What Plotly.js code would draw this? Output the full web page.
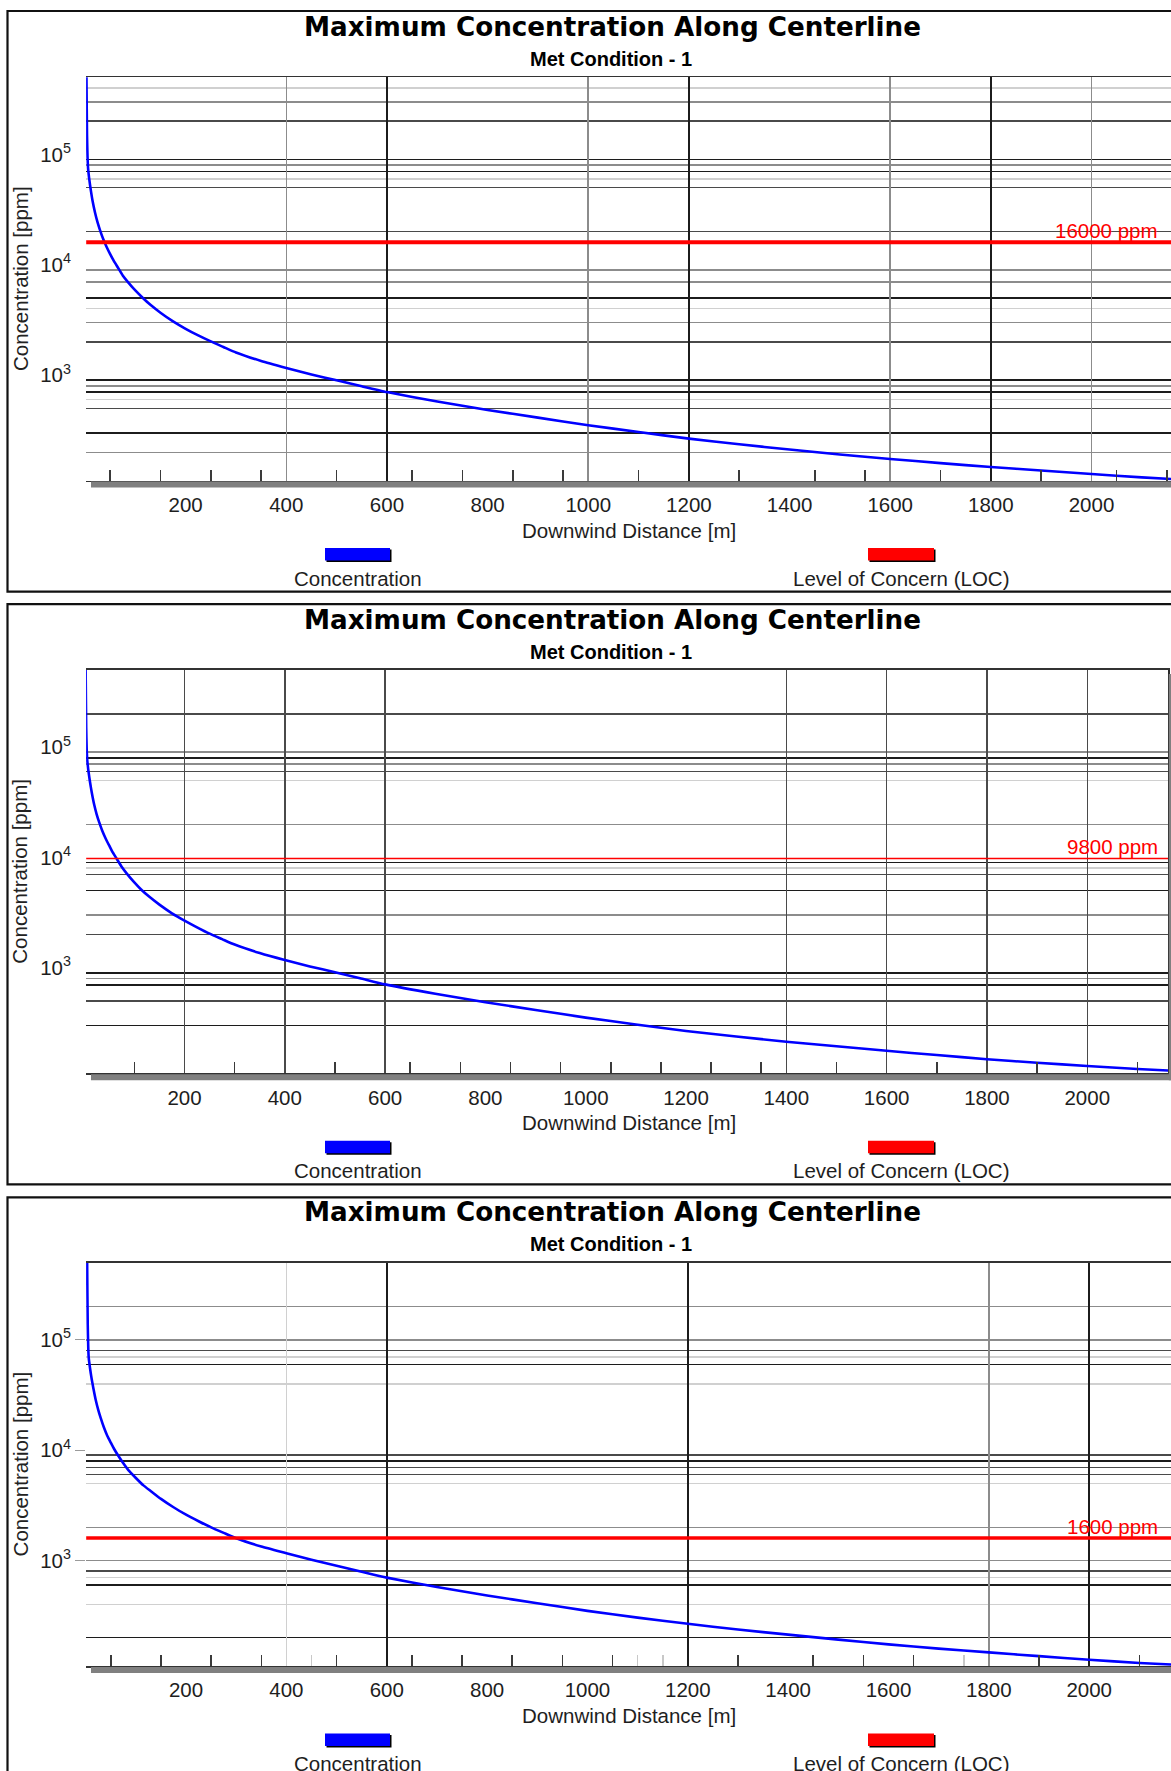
<!DOCTYPE html>
<html><head><meta charset="utf-8">
<script src="https://cdn.plot.ly/plotly-3.0.1.min.js"></script>
<style>html,body{margin:0;padding:0;background:#fff;overflow:hidden}</style>
</head><body>
<div id="chart" style="width:1171px;height:1771px"></div>
<script>
// ---------------- data ----------------
const distance = [2, 3, 4, 5, 6, 7, 8, 10, 12, 15, 20, 25, 30, 36, 43, 50, 57, 65, 75, 85, 100, 115, 130, 150, 175, 200, 225, 250, 275, 300, 350, 400, 450, 500, 550, 600, 700, 800, 900, 1000, 1100, 1200, 1300, 1400, 1500, 1600, 1700, 1800, 1900, 2000, 2100, 2165];
const concP1 = [2.0e6, 4.5e5, 1.5e5, 9.5e4, 7.6e4, 6.8e4, 6.2e4, 5.3e4, 4.6e4, 3.8e4, 2.96e4, 2.42e4, 2.05e4, 1.72e4, 1.45e4, 1.25e4, 1.09e4, 9.5e3, 8.0e3, 7.0e3, 5.85e3, 5.0e3, 4.34e3, 3.68e3, 3.07e3, 2.63e3, 2.29e3, 2.02e3, 1.8e3, 1.605e3, 1.345e3, 1.163e3, 1.015e3, 897, 792, 702, 577, 484, 412, 352, 305, 266, 236, 212, 191, 174, 159.5, 147, 136.5, 127, 118.5, 114];
const concP2 = [2.0e6, 4.5e5, 1.5e5, 9.5e4, 7.7e4, 6.9e4, 6.3e4, 5.4e4, 4.7e4, 3.9e4, 3.0e4, 2.45e4, 2.08e4, 1.75e4, 1.48e4, 1.28e4, 1.11e4, 9.7e3, 8.2e3, 7.15e3, 5.95e3, 5.05e3, 4.4e3, 3.74e3, 3.12e3, 2.68e3, 2.33e3, 2.04e3, 1.82e3, 1.625e3, 1.36e3, 1.175e3, 1.03e3, 912, 805, 708, 582, 488, 415, 354, 307, 268, 239, 214, 194.5, 177, 162, 148.5, 138, 129, 121, 117];
const concP3 = [2.0e6, 4.3e5, 1.4e5, 8.8e4, 6.9e4, 6.3e4, 5.8e4, 5.0e4, 4.4e4, 3.7e4, 2.85e4, 2.32e4, 1.95e4, 1.62e4, 1.35e4, 1.17e4, 1.02e4, 8.9e3, 7.6e3, 6.6e3, 5.6e3, 4.8e3, 4.25e3, 3.62e3, 3.04e3, 2.6e3, 2.27e3, 2.0e3, 1.78e3, 1.59e3, 1.34e3, 1.165e3, 1.015e3, 895, 790, 700, 576, 483, 410, 350, 304, 267, 237, 213, 192, 174, 159, 147, 136, 126, 118, 114];
const locValues = [16000, 9800, 1600];
const locLabels = ['16000 ppm', '9800 ppm', '1600 ppm'];
const xTickVals = [200, 400, 600, 800, 1000, 1200, 1400, 1600, 1800, 2000];
const xTickText = ['200', '400', '600', '800', '1000', '1200', '1400', '1600', '1800', '2000'];
const yTickVals = [1000, 10000, 100000];
const yTickText = ['10<sup>3</sup>', '10<sup>4</sup>', '10<sup>5</sup>'];
const chartTitle = 'Maximum Concentration Along Centerline';
const chartSubtitle = 'Met Condition - 1';
const xTitle = 'Downwind Distance [m]';
const yTitle = 'Concentration [ppm]';
const seriesNames = ['Concentration', 'Level of Concern (LOC)'];

// grid-line values (by shade)
const p1GridH = {k: [9e4, 7e4, 5e3, 900, 700, 300], d: [2e5, 5e4, 2e4, 2e3, 500], g: [3e5, 8e4, 9e3, 7e3, 3e3, 800, 200], l: [4e5, 6e4, 4e3, 600]};
const p2GridH = {k: [8e4, 9e3, 5e3, 900, 700, 300], d: [2e5, 6e4, 7e3, 2e3, 500], g: [9e4, 7e4, 2e4, 3e3, 800], l: [5e4, 8e3]};
const p3GridH = {k: [6e4, 8e3, 600, 200], d: [8e4, 9e3, 7e3, 6e3, 800], g: [2e5, 1e5, 2e3, 1e3], l: [7e4, 4e4, 5e3, 700, 400]};
const p1GridV = {k: [600, 1200, 1800], g: [400, 1000, 1600, 2000]};
const p2GridV = {d: [200, 400, 600, 1400, 1600, 1800, 2000]};
const p3GridV = {k: [600, 1200, 2000], g: [1800], l: [400]};
const p1Ticks = {k: [50, 150, 250, 350, 500, 650, 750, 850, 950, 1100, 1300, 1450, 1550, 1700, 1900, 2050, 2150]};
const p2Ticks = {k: [100, 300, 500, 650, 750, 850, 950, 1050, 1150, 1250, 1350, 1500, 1700, 1900, 2100]};
const p3Ticks = {k: [50, 150, 250, 350, 500, 650, 750, 850, 950, 1050, 1300, 1450, 1550, 1650, 1900, 2100], l: [450, 1100, 1150, 1750]};

// ---------------- layout helpers ----------------
const W = 1171, H = 1771;
const px = v => v / W;
const py = v => 1 - v / H;
const shade = {k: '#1c1c1c', d: '#4a4a4a', g: '#8c8c8c', l: '#d0d0d0'};
const REG = 'Liberation Sans, Arial, sans-serif';
const WIDE = 'DejaVu Sans, Verdana, sans-serif';
const axName = (l, n) => l + 'axis' + (n === 1 ? '' : n);
const axId = (l, n) => l + (n === 1 ? '' : n);

const panels = [
  {off: 0, conc: concP1, right: 1171, xr: [2.2, 2158], gridH: p1GridH, gridV: p1GridV, ticks: p1Ticks, locW: 4, ytick: 'rgba(0,0,0,0)', rightBorder: false},
  {off: 592.7, conc: concP2, right: 1168, xr: [3.8, 2161], gridH: p2GridH, gridV: p2GridV, ticks: p2Ticks, locW: 1.6, ytick: 'rgba(0,0,0,0)', rightBorder: true},
  {off: 1185.4, conc: concP3, right: 1171, xr: [0.8, 2163], gridH: p3GridH, gridV: p3GridV, ticks: p3Ticks, locW: 3.6, ytick: '#9a9a9a', rightBorder: false}
];
const yRange = [Math.log10(110.5), Math.log10(5e5)];
const plotTop = 77.3, plotBottom = 480.7, plotLeft = 86.1;

const traces = [];
const layout = {
  width: W, height: H, margin: {l: 0, r: 0, t: 0, b: 0},
  paper_bgcolor: '#fff', plot_bgcolor: 'rgba(0,0,0,0)', showlegend: false,
  shapes: [], annotations: []
};

panels.forEach((p, i) => {
  const n = i * 10 + 1;
  const X = axId('x', n), Y = axId('y', n);
  const base = {zeroline: false, showgrid: false, showticklabels: false, ticks: '', fixedrange: true};
  layout[axName('x', n)] = Object.assign({}, base, {
    domain: [px(plotLeft), px(p.right)], anchor: Y, range: p.xr,
    tickmode: 'array', tickvals: xTickVals, ticktext: xTickText, showticklabels: true,
    ticks: 'outside', ticklen: 5, tickcolor: 'rgba(0,0,0,0)',
    tickfont: {family: REG, size: 20.5, color: '#1e1e1e'},
    showline: true, mirror: true, linecolor: '#333', linewidth: 1.6
  });
  layout[axName('y', n)] = Object.assign({}, base, {
    domain: [py(plotBottom + p.off), py(plotTop + p.off)], anchor: X, type: 'log', range: yRange,
    tickmode: 'array', tickvals: yTickVals, ticktext: yTickText, showticklabels: true,
    ticks: 'outside', ticklen: 10, tickwidth: 1.2, tickcolor: p.ytick,
    tickfont: {family: REG, size: 20.5, color: '#1e1e1e'}
  });
  let k = n + 1;
  Object.keys(p.gridH).forEach(s => {
    layout[axName('y', k)] = Object.assign({}, base, {overlaying: Y, anchor: X, type: 'log', range: yRange,
      tickmode: 'array', tickvals: p.gridH[s], showgrid: true, gridcolor: shade[s], gridwidth: 1.5});
    traces.push({type: 'scatter', x: [], y: [], xaxis: X, yaxis: axId('y', k), hoverinfo: 'skip'});
    k++;
  });
  Object.keys(p.gridV).forEach(s => {
    layout[axName('x', k)] = Object.assign({}, base, {overlaying: X, anchor: Y, range: p.xr,
      tickmode: 'array', tickvals: p.gridV[s], showgrid: true, gridcolor: shade[s], gridwidth: 1.5});
    traces.push({type: 'scatter', x: [], y: [], xaxis: axId('x', k), yaxis: Y, hoverinfo: 'skip'});
    k++;
  });
  Object.keys(p.ticks).forEach(s => {
    layout[axName('x', k)] = Object.assign({}, base, {overlaying: X, anchor: Y, range: p.xr,
      tickmode: 'array', tickvals: p.ticks[s], ticks: 'inside', ticklen: 11, tickwidth: 1.6,
      tickcolor: s === 'l' ? '#c8c8c8' : '#3a3a3a'});
    traces.push({type: 'scatter', x: [], y: [], xaxis: axId('x', k), yaxis: Y, hoverinfo: 'skip'});
    k++;
  });
  if (p.rightBorder) {
    layout[axName('y', k)] = Object.assign({}, base, {overlaying: Y, anchor: X, side: 'right', type: 'log', range: yRange,
      showline: true, linecolor: '#2a2a2a', linewidth: 1.6});
    traces.push({type: 'scatter', x: [], y: [], xaxis: X, yaxis: axId('y', k), hoverinfo: 'skip'});
    k++;
  }

  // concentration curve
  traces.push({type: 'scatter', mode: 'lines', x: distance, y: p.conc, xaxis: X, yaxis: Y,
    line: {color: '#0000ff', width: 2.6, shape: 'spline', smoothing: 0.5}, name: seriesNames[0], hoverinfo: 'skip'});
  // level of concern
  traces.push({type: 'scatter', mode: 'lines', x: p.xr, y: [locValues[i], locValues[i]], xaxis: X, yaxis: Y,
    line: {color: '#ff0000', width: p.locW}, name: seriesNames[1], hoverinfo: 'skip'});

  const o = p.off;
  // panel frame
  layout.shapes.push({type: 'rect', xref: 'paper', yref: 'paper', x0: px(7.5), x1: px(1190),
    y0: py(i === 2 ? 1800 : 591.7 + o), y1: py(11 + o + 0.5 * i),
    line: {color: '#111', width: 2.2}, fillcolor: 'rgba(0,0,0,0)'});
  // 3D axis band
  layout.shapes.push({type: 'rect', xref: 'paper', yref: 'paper', x0: px(91), x1: px(p.right + (p.rightBorder ? 3 : 0)),
    y0: py(487.5 + o), y1: py(481.6 + o), line: {width: 0}, fillcolor: '#808080'});
  if (p.rightBorder) {
    layout.shapes.push({type: 'rect', xref: 'paper', yref: 'paper', x0: px(p.right + 0.8), x1: px(p.right + 3.5),
      y0: py(487.5 + o), y1: py(plotTop + 4 + o), line: {width: 0}, fillcolor: '#808080'});
  }
  // legend swatches
  [[325, 390, '#0000ff'], [868, 934, '#ff0000']].forEach(sw => {
    layout.shapes.push({type: 'rect', xref: 'paper', yref: 'paper', x0: px(sw[0] + 1.5), x1: px(sw[1] + 1.5),
      y0: py(562 + o), y1: py(549.5 + o), line: {width: 0}, fillcolor: '#000'});
    layout.shapes.push({type: 'rect', xref: 'paper', yref: 'paper', x0: px(sw[0]), x1: px(sw[1]),
      y0: py(560.5 + o), y1: py(548 + o), line: {width: 0}, fillcolor: sw[2]});
  });

  const ann = (x, y, text, font, extra) => layout.annotations.push(Object.assign({
    xref: 'paper', yref: 'paper', x: px(x), y: py(y), text: text, showarrow: false,
    xanchor: 'center', yanchor: 'middle', font: font}, extra || {}));
  ann(612, 27 + o, chartTitle, {family: WIDE, size: 26.2, color: '#000', weight: 700});
  ann(611, 59 + o, chartSubtitle, {family: REG, size: 20, color: '#000', weight: 700});
  ann(20, 279 + o, yTitle, {family: REG, size: 20.5, color: '#222'}, {textangle: -90});
  ann(628.5, 530 + o, xTitle, {family: REG, size: 20.5, color: '#1e1e1e'});
  ann(357.5, 578 + o, seriesNames[0], {family: REG, size: 20.5, color: '#1e1e1e'});
  ann(901, 578 + o, seriesNames[1], {family: REG, size: 20.5, color: '#1e1e1e'});
  layout.annotations.push({xref: 'paper', yref: Y, x: px(1160), y: Math.log10(locValues[i]), yshift: 12,
    text: locLabels[i], showarrow: false, xanchor: 'right', yanchor: 'middle',
    font: {family: REG, size: 20.5, color: '#ff0000'}});
});

Plotly.newPlot('chart', traces, layout, {staticPlot: true, displayModeBar: false});
</script>
</body></html>
